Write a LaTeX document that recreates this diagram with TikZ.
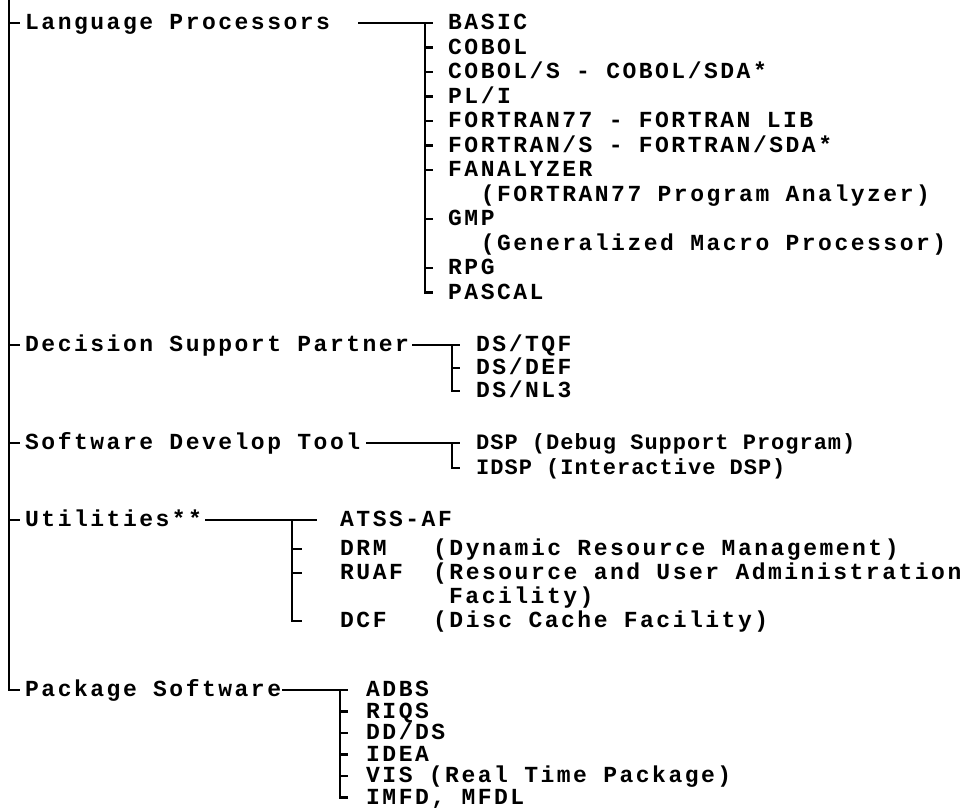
\documentclass[tikz,border=0pt]{standalone}
\usepackage{fontspec}
\usepackage{tikz}
\newfontfamily\dotfont[LetterSpace=10.9]{Liberation Mono Bold}
\newfontfamily\dotfontnarrow[LetterSpace=4.5]{Liberation Mono Bold}

\begin{document}
\begin{tikzpicture}[x=1pt,y=-1pt,
  tree/.style={line width=2.2pt},
  entry/.style={anchor=west,inner sep=0pt,text height=13.8pt,text depth=0pt,
    font=\dotfont\fontsize{23}{24}\selectfont},
  narrow/.style={entry,font=\dotfontnarrow\fontsize{22}{24}\selectfont}]
  \useasboundingbox (0,0) rectangle (977,808);
  % main headings on the trunk
  \coordinate (top) at (9,0);
  \node[entry] (lang) at (25,23) {Language Processors};
  \node[entry] (dec) at (25,345) {Decision Support Partner};
  \node[entry] (sdev) at (25,443) {Software Develop Tool};
  \node[entry] (util) at (25,520) {Utilities**};
  \node[entry] (pkg) at (25,690) {Package Software};
  \draw[tree] (top) |- ([xshift=-5pt]pkg.west);
  \foreach \c in {lang,dec,sdev,util}
    \draw[tree] (top |- \c.west) -- ++(11,0);

  % language processors
  \foreach \ind/\lab [count=\i] in {0/BASIC,0/COBOL,0/{COBOL/S - COBOL/SDA*},0/{PL/I},
      0/{FORTRAN77 - FORTRAN LIB},0/{FORTRAN/S - FORTRAN/SDA*},0/FANALYZER,
      2/{(FORTRAN77 Program Analyzer)},0/GMP,2/{(Generalized Macro Processor)},
      0/RPG,0/PASCAL}
    \node[entry] (lang\i) at ({448+16.3*\ind},{23+24.5*(\i-1)}) {\lab};
  \coordinate (langbar) at (425,23);
  \draw[tree] ([xshift=28pt]lang.east) -- ([xshift=8pt]langbar);
  \draw[tree] (langbar) |- ([xshift=-15pt]lang12.west);
  \foreach \i in {2,3,4,5,6,7,9,11}
    \draw[tree] (langbar |- lang\i.west) -- ++(8,0);

  % decision support
  \foreach \lab [count=\i] in {DS/TQF,DS/DEF,DS/NL3}
    \node[entry] (dec\i) at (476,{345+23*(\i-1)}) {\lab};
  \coordinate (decbar) at (452,345);
  \draw[tree] ([xshift=3pt]dec.east) -- ([xshift=8pt]decbar);
  \draw[tree] (decbar) |- ([xshift=-16pt]dec3.west);
  \draw[tree] (decbar |- dec2.west) -- ++(8,0);

  % develop tools
  \node[narrow] (sdev1) at (476,443) {DSP (Debug Support Program)};
  \node[narrow] (sdev2) at (476,468) {IDSP (Interactive DSP)};
  \coordinate (sdevbar) at (452,443);
  \draw[tree] ([xshift=6pt]sdev.east) -- ([xshift=8pt]sdevbar);
  \draw[tree] (sdevbar) |- ([xshift=-16pt]sdev2.west);

  % utilities
  \node[entry] (util1) at (340,520) {ATSS-AF};
  \node[entry] (util2) at (340,549) {DRM};
  \node[entry] (util3) at (340,573) {RUAF};
  \node[entry] (util4) at (340,621) {DCF};
  \node[entry] (utild2) at (433,549) {(Dynamic Resource Management)};
  \node[entry] (utild3) at (433,573) {(Resource and User Administration};
  \node[entry] (utild3b) at (449,597) {Facility)};
  \node[entry] (utild4) at (433,621) {(Disc Cache Facility)};
  \coordinate (utilbar) at (292,520);
  \draw[tree] ([xshift=3pt]util.east) -- ([xshift=-23pt]util1.west);
  \draw[tree] (utilbar) |- ([xshift=-38pt]util4.west);
  \foreach \i in {2,3}
    \draw[tree] (utilbar |- util\i.west) -- ++(10,0);

  % package software
  \foreach \lab [count=\i] in {ADBS,RIQS,DD/DS,IDEA,VIS (Real Time Package),{IMFD, MFDL}}
    \node[entry] (pkg\i) at (366,{690+21.5*(\i-1)}) {\lab};
  \coordinate (pkgbar) at (340,690);
  \draw[tree] ([xshift=1pt]pkg.east) -- ([xshift=8pt]pkgbar);
  \draw[tree] (pkgbar) |- ([xshift=-18pt]pkg6.west);
  \foreach \i in {2,3,4,5}
    \draw[tree] (pkgbar |- pkg\i.west) -- ++(8,0);
\end{tikzpicture}
\end{document}
